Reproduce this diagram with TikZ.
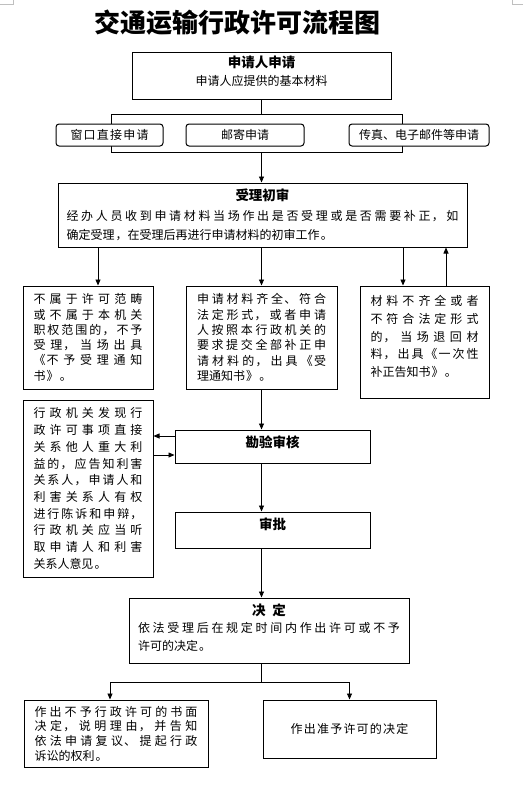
\documentclass[tikz,border=0pt]{standalone}
\usepackage{fontspec}
\setmainfont{Noto Sans CJK SC}[LetterSpace=10]
\newfontfamily\hei{Noto Sans CJK SC}
\newfontfamily\tight{Noto Sans CJK SC}
\XeTeXlinebreaklocale "zh"
\XeTeXlinebreakskip=0pt plus 3pt
\usetikzlibrary{positioning,arrows.meta,calc}

\newcommand\headtext[1]{{\hei\bfseries\fontsize{13.5}{16}\selectfont #1}}
\newcommand\headline[1]{{\centering\headtext{#1}\par}}
\newcommand\padbelow[1]{\par\nointerlineskip\vbox to #1{}}

\tikzset{
  box/.style={draw, line width=1pt, fill=white, inner sep=0pt,
    font=\fontsize{12}{15.3}\selectfont},
  pill/.style={box, rounded corners=3pt, minimum height=22pt},
  para/.style={align=justify, text width=#1},
  arr/.style={-{Triangle[length=6pt,width=5pt]}, line width=0.8pt},
  ln/.style={line width=0.8pt},
}

\begin{document}
\begin{tikzpicture}[x=1pt,y=1pt]
  \useasboundingbox (0,0) rectangle (523,-785);
  % page corner marks
  \draw[gray!50, line width=0.5pt] (0,-4) -- (13,-4) -- (13,0);
  \draw[gray!50, line width=0.5pt] (523,-4) -- (512,-4) -- (512,0);

  \node[font=\hei\bfseries\fontsize{26}{28}\selectfont, inner sep=0pt] (title) at (237,-23) {交通运输行政许可流程图};

  \node[box, minimum width=259pt, minimum height=47pt, align=flush center, text width=240pt,
    font=\fontsize{12}{18}\selectfont] (apply) at (261.5,-75.5)
    {\headtext{申请人申请}\par 申请人应提供的基本材料\padbelow{9pt}};

  % ways of applying
  \coordinate (gl) at (111,-114);
  \coordinate (gr) at (402,-152);
  \draw[ln] (apply.south) -- (apply.south |- gl);
  \draw[ln] (gl) rectangle (gr);
  \node[pill, minimum width=118pt, font=\tight\fontsize{12}{14}\selectfont] (mail) [below=24pt of apply, xshift=-16.5pt] {邮寄申请};
  \node[pill, minimum width=107pt] (win) [left=22pt of mail] {窗口直接申请};
  \node[pill, minimum width=140pt, font=\tight\fontsize{12}{14}\selectfont] (fax) [right=44pt of mail] {传真、电子邮件等申请};

  \node[box, minimum width=409pt, minimum height=64pt, para=392pt,
    font=\fontsize{12}{19.5}\selectfont] (accept) [below=36pt of mail, xshift=17.5pt]
    {\headline{受理初审}经办人员收到申请材料当场作出是否受理或是否需要补正，如\linebreak 确定受理，在受理后再进行申请材料的初审工作。};

  % results of the first check
  \node[box, minimum width=151pt, minimum height=103pt, para=129pt] (admit) [below=38pt of accept, xshift=-1pt]
    {申请材料齐全、符合\linebreak 法定形式，或者申请\linebreak 人按照本行政机关的\linebreak 要求提交全部补正申\linebreak 请材料的，出具《受\linebreak 理通知书》。};
  \node[box, minimum width=130pt, minimum height=103pt, para=109pt] (refuse) [left=32pt of admit]
    {不属于许可范畴\linebreak 或不属于本机关\linebreak 职权范围的，不予\linebreak 受理，当场出具\linebreak 《不予受理通知\linebreak 书》。};
  \node[box, minimum width=129pt, minimum height=112pt, para=108pt,
    font=\fontsize{12}{17.7}\selectfont] (amend) [below right=0pt and 22pt of admit.north east]
    {材料不齐全或者\linebreak 不符合法定形式\linebreak 的，当场退回材\linebreak 料，出具《一次性\linebreak 补正告知书》。\padbelow{11pt}};
  \node[box, minimum width=130pt, minimum height=177pt, para=109pt,
    font=\fontsize{12}{16.7}\selectfont] (hear) [below=10pt of refuse]
    {行政机关发现行\linebreak 政许可事项直接\linebreak 关系他人重大利\linebreak 益的，应告知利害\linebreak 关系人，申请人和\linebreak 利害关系人有权\linebreak 进行陈诉和申辩，\linebreak 行政机关应当听\linebreak 取申请人和利害\linebreak 关系人意见。};

  \node[box, minimum width=195pt, minimum height=33pt,
    font=\hei\bfseries\fontsize{13.5}{16}\selectfont, text depth=10.5pt] (check) [below=40pt of admit, xshift=11pt] {勘验审核};
  \node[box, minimum width=195pt, minimum height=36pt,
    font=\hei\bfseries\fontsize{13.5}{16}\selectfont, text depth=13.4pt] (approve) [below=48pt of check] {审批};

  \node[box, minimum width=280pt, minimum height=65pt, para=262pt,
    font=\fontsize{12}{17.5}\selectfont] (decide) [below=49pt of approve, xshift=-3.5pt]
    {\headline{决\hspace{7pt}定}依法受理后在规定时间内作出许可或不予\linebreak 许可的决定。\padbelow{6pt}};

  \node[box, minimum width=184pt, minimum height=67pt, para=163pt,
    font=\fontsize{12}{14.7}\selectfont] (deny) [below=36pt of decide, xshift=-153pt]
    {作出不予行政许可的书面\linebreak 决定，说明理由，并告知\linebreak 依法申请复议、提起行政\linebreak 诉讼的权利。};
  \node[box, minimum width=173pt, minimum height=58pt] (grant) [below right=0pt and 54pt of deny.north east] {作出准予许可的决定};

  % connectors
  \coordinate (rn) at ([xshift=10pt]refuse.north);
  \coordinate (an1) at ([xshift=-21.5pt]amend.north);
  \coordinate (an2) at ([xshift=21.5pt]amend.north);
  \coordinate (cw1) at ([yshift=10.5pt]check.west);
  \coordinate (cw2) at ([yshift=-8.5pt]check.west);
  \coordinate (dn) at ([xshift=-6pt]deny.north);
  \path (admit.south |- decide.south) ++(0,-19) coordinate (fork);

  \draw[arr] (apply.south |- gr) -- (apply.south |- accept.north);
  \draw[arr] (accept.south -| rn) -- (rn);
  \draw[arr] (accept.south -| admit.north) -- (admit.north);
  \draw[arr] (accept.south -| an1) -- (an1);
  \draw[arr] (an2) -- (accept.south -| an2);
  \draw[arr] (admit.south) -- (admit.south |- check.north);
  \draw[arr] (cw1) -- (cw1 -| hear.east);
  \draw[arr] (cw2 -| hear.east) -- (cw2);
  \draw[arr] (admit.south |- check.south) -- (admit.south |- approve.north);
  \draw[arr] (admit.south |- approve.south) -- (admit.south |- decide.north);
  \draw[ln] (admit.south |- decide.south) -- (fork);
  \draw[arr] (fork) -| (dn);
  \draw[arr] (fork) -| (grant.north);
\end{tikzpicture}
\end{document}
